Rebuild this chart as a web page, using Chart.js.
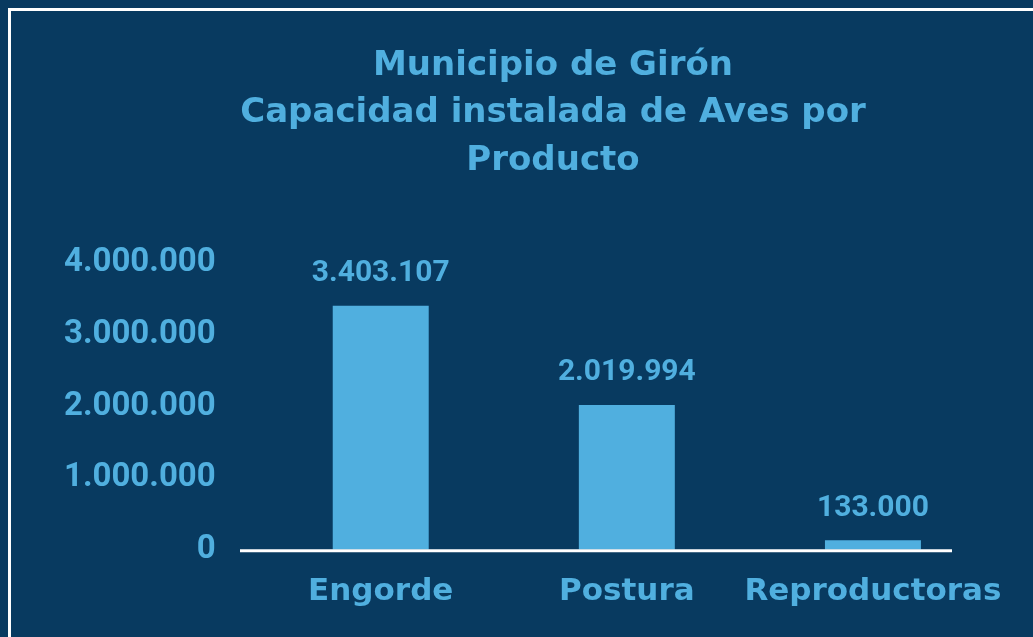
<!DOCTYPE html>
<html>
<head>
<meta charset="utf-8">
<script src="https://cdn.jsdelivr.net/npm/chart.js@4.4.0/dist/chart.umd.min.js"></script>
<style>
  html, body { margin: 0; padding: 0; background: #083a60; }
  #wrap { position: relative; width: 1033px; height: 637px; overflow: hidden; }
  #frame {
    position: absolute; left: 8px; top: 8px; width: 1100px; height: 700px;
    border-left: 3px solid #ffffff; border-top: 3px solid #ffffff;
  }
  canvas { position: absolute; left: 0; top: 0; }
</style>
</head>
<body>
<div id="wrap">
  <div id="frame"></div>
  <canvas id="aves" width="1033" height="637"></canvas>
</div>
<script>
var categories = ['Engorde', 'Postura', 'Reproductoras'];
var capacidad = [3403107, 2019994, 133000];
var yTicks = [0, 1000000, 2000000, 3000000, 4000000];
var titleLines = ['Municipio de Girón', 'Capacidad instalada de Aves por', 'Producto'];

var azul = '#50afdf';

// miles con punto: 3403107 -> 3.403.107
function formatMiles(n) {
  return String(n).replace(/\B(?=(\d{3})+(?!\d))/g, '.');
}

// titulo de tres lineas, centrado sobre todo el recuadro
var tituloGrafico = {
  id: 'tituloGrafico',
  afterDraw: function (chart) {
    var ctx = chart.ctx;
    ctx.save();
    ctx.fillStyle = azul;
    ctx.font = 'bold 34px "DejaVu Sans"';
    ctx.textAlign = 'center';
    ctx.textBaseline = 'middle';
    titleLines.forEach(function (line, i) {
      ctx.fillText(line, 553, 66 + i * 47.5);
    });
    ctx.restore();
  }
};

// etiquetas de valor encima de cada barra
var valueLabels = {
  id: 'valueLabels',
  afterDatasetsDraw: function (chart) {
    var ctx = chart.ctx;
    var meta = chart.getDatasetMeta(0);
    ctx.save();
    ctx.fillStyle = azul;
    ctx.font = 'bold 30px Roboto';
    ctx.textAlign = 'center';
    ctx.textBaseline = 'bottom';
    meta.data.forEach(function (bar, i) {
      ctx.fillText(formatMiles(capacidad[i]), bar.x, bar.y - 17);
    });
    ctx.restore();
  }
};

// linea blanca del eje horizontal
var baseLine = {
  id: 'baseLine',
  afterDatasetsDraw: function (chart) {
    var ctx = chart.ctx;
    var y = chart.scales.y.getPixelForValue(0);
    ctx.save();
    ctx.strokeStyle = '#ffffff';
    ctx.lineWidth = 3;
    ctx.beginPath();
    ctx.moveTo(240, y + 1);
    ctx.lineTo(952, y + 1);
    ctx.stroke();
    ctx.restore();
  }
};

var chart = new Chart(document.getElementById('aves'), {
  type: 'bar',
  data: {
    labels: categories,
    datasets: [{
      data: capacidad,
      backgroundColor: azul,
      borderWidth: 0,
      barPercentage: 0.39,
      categoryPercentage: 1
    }]
  },
  options: {
    responsive: false,
    animation: false,
    layout: { padding: { top: 263, right: 37, left: 22, bottom: 2 } },
    plugins: {
      legend: { display: false },
      tooltip: { enabled: false },
      title: { display: false }
    },
    scales: {
      x: {
        grid: { display: false, drawTicks: false },
        border: { display: false },
        ticks: {
          color: azul,
          padding: 24,
          maxRotation: 0,
          autoSkip: false,
          font: { family: 'DejaVu Sans', size: 31, weight: 'bold' }
        }
      },
      y: {
        min: 0,
        max: 4000000,
        afterBuildTicks: function (scale) {
          scale.ticks = yTicks.map(function (v) { return { value: v }; });
        },
        grid: { display: false, drawTicks: false },
        border: { display: false },
        ticks: {
          color: azul,
          padding: 42,
          font: { family: 'Roboto', size: 33, weight: 'bold' },
          callback: function (v) { return formatMiles(v); }
        }
      }
    }
  },
  plugins: [valueLabels, baseLine, tituloGrafico]
});
</script>
</body>
</html>
